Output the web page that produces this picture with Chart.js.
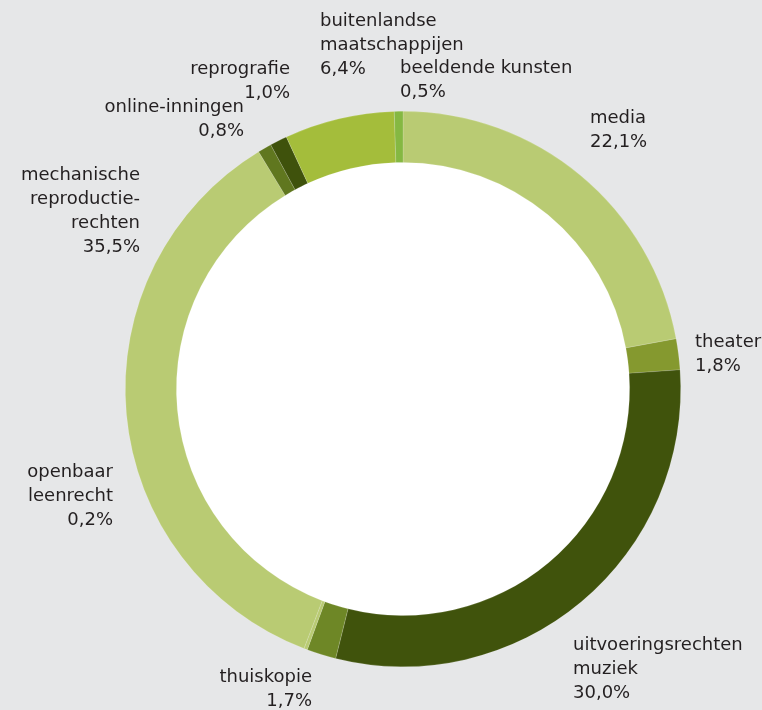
<!DOCTYPE html>
<html>
<head>
<meta charset="utf-8">
<script src="https://cdn.jsdelivr.net/npm/chart.js@4.4.1/dist/chart.umd.min.js"></script>
<style>
  html, body { margin: 0; padding: 0; background: #e6e7e8; }
  #wrap { width: 762px; height: 710px; position: relative; }
</style>
</head>
<body>
<div id="wrap"><canvas id="c" width="762" height="710"></canvas></div>
<script>
// Data (clockwise from top)
const categories = [
  ['media'],
  ['theater'],
  ['uitvoeringsrechten', 'muziek'],
  ['thuiskopie'],
  ['openbaar', 'leenrecht'],
  ['mechanische', 'reproductie-', 'rechten'],
  ['online-inningen'],
  ['reprografie'],
  ['buitenlandse', 'maatschappijen'],
  ['beeldende kunsten']
];
const shares = [22.1, 1.8, 30.0, 1.7, 0.2, 35.5, 0.8, 1.0, 6.4, 0.5];
const shareLabels = ['22,1%', '1,8%', '30,0%', '1,7%', '0,2%', '35,5%', '0,8%', '1,0%', '6,4%', '0,5%'];

// Styles
const colors = ['#b9cb73', '#85992f', '#40530c', '#6e8726', '#b9cb73', '#b9cb73', '#60771f', '#3f520c', '#a4bd3b', '#85b842'];
// label anchor offsets relative to chart centre: [dx, dy of first line centre, align]
const labelLayout = [
  [187, -271, 'left'],
  [292, -47, 'left'],
  [170, 256, 'left'],
  [-91, 288, 'right'],
  [-290, 83, 'right'],
  [-263, -214, 'right'],
  [-159, -282, 'right'],
  [-113, -320, 'right'],
  [-83, -368, 'left'],
  [-3, -321, 'left']
];

const holePlugin = {
  id: 'whiteHole',
  beforeDatasetsDraw(chart) {
    const arc = chart.getDatasetMeta(0).data[0];
    const ctx = chart.ctx;
    ctx.save();
    ctx.fillStyle = '#ffffff';
    ctx.beginPath();
    ctx.arc(arc.x, arc.y, arc.innerRadius + 1, 0, Math.PI * 2);
    ctx.fill();
    ctx.restore();
  }
};

const labelPlugin = {
  id: 'sliceLabels',
  afterDraw(chart) {
    const ctx = chart.ctx;
    const arc = chart.getDatasetMeta(0).data[0];
    const cx = arc.x, cy = arc.y;
    ctx.save();
    ctx.font = '18px "DejaVu Sans", sans-serif';
    ctx.fillStyle = '#231f20';
    ctx.textBaseline = 'middle';
    const lh = 24;
    categories.forEach((lines, i) => {
      const [dx, dy, align] = labelLayout[i];
      ctx.textAlign = align;
      const all = lines.concat([shareLabels[i]]);
      all.forEach((t, j) => ctx.fillText(t, cx + dx, cy + dy + j * lh));
    });
    ctx.restore();
  }
};

new Chart(document.getElementById('c'), {
  type: 'doughnut',
  data: {
    labels: categories.map(l => l.join(' ')),
    datasets: [{
      data: shares,
      backgroundColor: colors,
      borderColor: 'rgba(255,255,255,0.25)',
      borderWidth: 0.6,
      hoverOffset: 0
    }]
  },
  options: {
    responsive: false,
    animation: false,
    cutout: '81.6%',
    rotation: 0,
    layout: { padding: { left: 125, right: 81, top: 111, bottom: 43 } },
    plugins: {
      legend: { display: false },
      tooltip: { enabled: false }
    }
  },
  plugins: [holePlugin, labelPlugin]
});
</script>
</body>
</html>
